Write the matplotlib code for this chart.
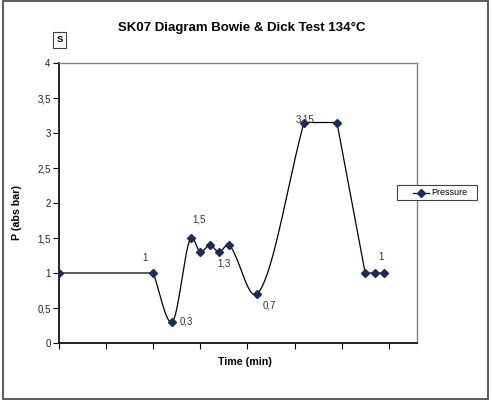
import numpy as np
import matplotlib
matplotlib.use("Agg")
import matplotlib.pyplot as plt
from matplotlib.lines import Line2D
from matplotlib.patches import Rectangle

plt.rcParams['font.family'] = ['Liberation Sans', 'DejaVu Sans']

# ---- data ----
time = [0, 2, 2.4, 2.8, 3.0, 3.2, 3.4, 3.6, 4.2, 5.2, 5.9, 6.5, 6.7, 6.9]
pressure = [1, 1, 0.3, 1.5, 1.3, 1.4, 1.3, 1.4, 0.7, 3.15, 3.15, 1, 1, 1]
yticks = [0, 0.5, 1, 1.5, 2, 2.5, 3, 3.5, 4]
ytick_labels = ["0", "0,5", "1", "1,5", "2", "2,5", "3", "3,5", "4"]
xticks = [0, 1, 2, 3, 4, 5, 6, 7]
# data labels: (point index, text, dx px, dy px)
labels = [(1, "1", -8, 15), (2, "0,3", 14, 0), (3, "1,5", 8, 19),
          (6, "1,3", 5, -11), (8, "0,7", 12, -12), (9, "3,15", 1, 3),
          (12, "1", 6, 16)]
series_name = "Pressure"
title = "SK07 Diagram Bowie & Dick Test 134°C"

LINE_COLOR = 'black'
MARKER_COLOR = '#1c2a5c'


def smooth(x, y, scale=0.5, n=40):
    """Piecewise cubic Hermite smoothing (Excel-like look)."""
    x = np.asarray(x, float)
    y = np.asarray(y, float)
    N = len(x)
    sec = np.diff(y) / np.diff(x)
    ml = np.zeros(N)
    mr = np.zeros(N)
    mr[0] = sec[0]
    ml[-1] = sec[-1]
    for i in range(1, N - 1):
        if y[i] == y[i - 1] or y[i] == y[i + 1]:
            ml[i] = sec[i - 1]
            mr[i] = sec[i]
        else:
            m = scale * (y[i + 1] - y[i - 1]) / (x[i + 1] - x[i - 1])
            ml[i] = mr[i] = m
    xs, ys = [], []
    for i in range(N - 1):
        t = np.linspace(0, 1, n)
        h = x[i + 1] - x[i]
        h00 = 2 * t**3 - 3 * t**2 + 1
        h10 = t**3 - 2 * t**2 + t
        h01 = -2 * t**3 + 3 * t**2
        h11 = t**3 - t**2
        xs.append(x[i] + h * t)
        ys.append(h00 * y[i] + h10 * h * mr[i] + h01 * y[i + 1]
                  + h11 * h * ml[i + 1])
    return np.concatenate(xs), np.concatenate(ys)


fig = plt.figure(figsize=(4.92, 4.01), dpi=100)
fig.patches.append(Rectangle((3 / 492, 1 - 399 / 401), 485 / 492, 398 / 401,
                             transform=fig.transFigure, fill=False,
                             edgecolor='#404040', linewidth=1.2))

ax = fig.add_axes([59 / 492, 1 - 343 / 401, 358 / 492, 280 / 401])
ax.set_xlim(0, 7.6)
ax.set_ylim(0, 4)

sx, sy = smooth(time, pressure)
ax.plot(sx, sy, color=LINE_COLOR, linewidth=0.9, zorder=2)
ax.plot(time, pressure, linestyle='none', marker='D', markersize=4.3,
        color=MARKER_COLOR, zorder=3)

ax.set_yticks(yticks)
ax.set_yticklabels(ytick_labels)
ax.set_xticks(xticks)
ax.set_xticklabels([])
ax.tick_params(axis='both', direction='out', length=4, width=0.8,
               labelsize=7, colors='black', pad=2)
ax.tick_params(axis='y', labelcolor='#222222')
for s in ['left', 'bottom']:
    ax.spines[s].set_color('black')
    ax.spines[s].set_linewidth(1.2)
for s in ['top', 'right']:
    ax.spines[s].set_color('#808080')
    ax.spines[s].set_linewidth(1.0)

for idx, txt, dx, dy in labels:
    ax.annotate(txt, (time[idx], pressure[idx]), xytext=(dx * 0.72, dy * 0.72),
                textcoords='offset points', ha='center', va='center',
                fontsize=7, color='#333333')

fig.text(242 / 492, 1 - 28 / 401, title, ha='center', va='center',
         fontsize=9.5, fontweight='bold')
fig.text(59.5 / 492, 1 - 40 / 401, "S", ha='center', va='center',
         fontsize=6.8, fontweight='bold',
         bbox=dict(boxstyle='square,pad=0.4', facecolor='white',
                   edgecolor='#404040', linewidth=0.8))
fig.text(17.5 / 492, 1 - 212 / 401, "P (abs bar)", rotation=90, ha='center',
         va='center', fontsize=7.7, fontweight='bold')
fig.text(244.5 / 492, 1 - 362 / 401, "Time (min)", ha='center', va='center',
         fontsize=7.7, fontweight='bold')

# legend drawn as a framed box overlapping the plot border (Excel style)
fig.patches.append(Rectangle((397 / 492, 1 - 200 / 401), 80 / 492, 15 / 401,
                             transform=fig.transFigure, facecolor='white',
                             edgecolor='#404040', linewidth=0.8, zorder=5))
fig.add_artist(Line2D([413 / 492, 429 / 492], [1 - 192.5 / 401] * 2,
                      transform=fig.transFigure, color=LINE_COLOR,
                      linewidth=0.9, zorder=6))
fig.add_artist(Line2D([421 / 492], [1 - 192.5 / 401],
                      transform=fig.transFigure, marker='D', markersize=4.3,
                      color=MARKER_COLOR, linestyle='none', zorder=7))
fig.text(431 / 492, 1 - 192.5 / 401, series_name, ha='left', va='center',
         fontsize=6.5, zorder=8)

fig.savefig("out.png", dpi=100)
